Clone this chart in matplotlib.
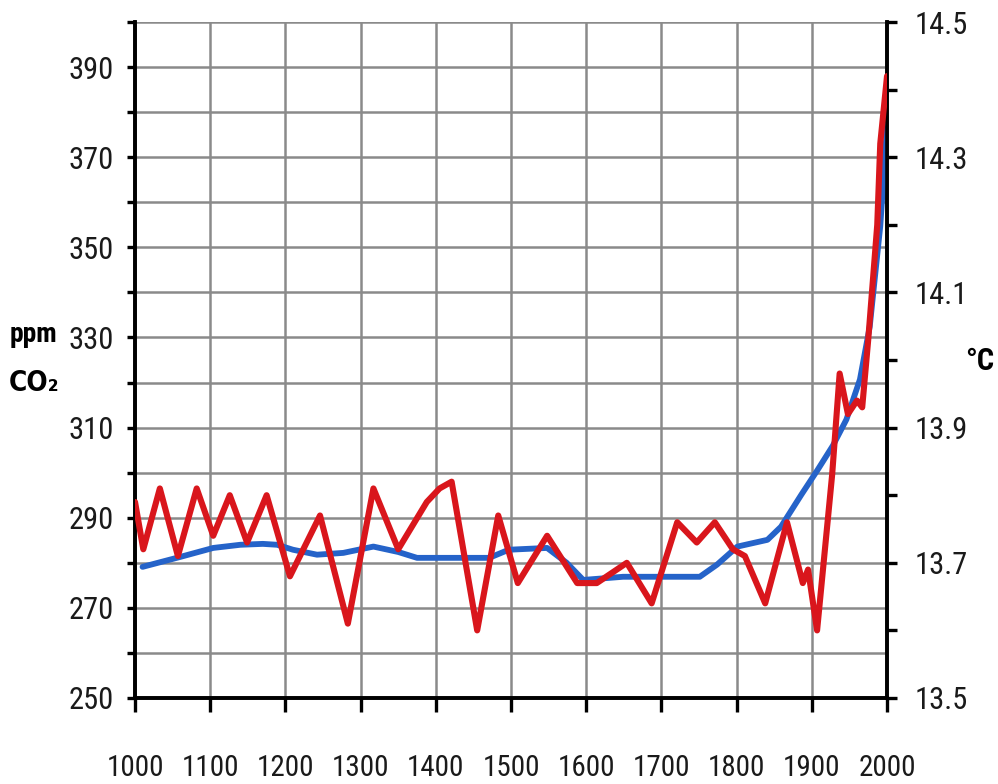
import matplotlib
matplotlib.use('Agg')
import matplotlib.pyplot as plt
from matplotlib.ticker import MultipleLocator

plt.rcParams['font.family'] = ['Roboto Condensed', 'DejaVu Sans']

# CO2 (ppm, left axis)
co2_years = [1010, 1060, 1104, 1140, 1170, 1189, 1210, 1242, 1277, 1317, 1350,
             1375, 1428, 1471, 1497, 1548, 1574, 1596, 1649, 1694, 1751, 1774,
             1801, 1841, 1859, 1886, 1908, 1928, 1946, 1964, 1977, 1991, 2000]
co2_ppm = [279.1, 281.3, 283.3, 284.0, 284.2, 284.0, 282.9, 281.8, 282.2, 283.6, 282.4,
           281.1, 281.1, 281.1, 282.9, 283.3, 280.0, 276.2, 276.9, 276.9, 276.9, 279.6,
           283.6, 285.1, 288.0, 295.1, 300.7, 306.0, 311.8, 320.7, 332.4, 354.7, 377.0]

# temperature (deg C, right axis)
temp_years = [1000, 1011, 1033, 1057, 1082, 1104, 1126, 1149, 1175, 1206, 1246,
              1283, 1317, 1350, 1388, 1405, 1421, 1455, 1483, 1509, 1548, 1588,
              1614, 1654, 1687, 1721, 1747, 1771, 1795, 1811, 1838, 1867, 1888,
              1895, 1907, 1927, 1937, 1948, 1960, 1967, 1975, 1987, 1991, 2000]
temp_c = [13.79, 13.72, 13.81, 13.71, 13.81, 13.74, 13.80, 13.73, 13.80, 13.68, 13.77,
          13.61, 13.81, 13.72, 13.79, 13.81, 13.82, 13.60, 13.77, 13.67, 13.74, 13.67,
          13.67, 13.70, 13.64, 13.76, 13.73, 13.76, 13.72, 13.71, 13.64, 13.76, 13.67,
          13.69, 13.60, 13.83, 13.98, 13.92, 13.94, 13.93, 14.03, 14.20, 14.32, 14.42]

left_ticks = [250, 270, 290, 310, 330, 350, 370, 390]
right_ticks = [13.5, 13.7, 13.9, 14.1, 14.3, 14.5]
x_ticks = list(range(1000, 2001, 100))

fig = plt.figure(figsize=(9.98, 7.84), dpi=100)
ax = fig.add_axes([0.1353, 0.1097, 0.7535, 0.8622])
ax2 = ax.twinx()

ax.set_xlim(1000, 2000)
ax.set_ylim(250, 400)
ax2.set_ylim(13.5, 14.5)

ax.set_xticks(x_ticks)
ax.set_xticklabels([str(x) for x in x_ticks])
ax.set_yticks(left_ticks)
ax.yaxis.set_minor_locator(MultipleLocator(10))
ax2.set_yticks(right_ticks)
ax2.set_yticklabels([str(t) for t in right_ticks])
ax2.yaxis.set_minor_locator(MultipleLocator(0.1))

ax.grid(True, which='both', color='#8a8a8a', lw=1.8)
ax.set_axisbelow(True)

for a in (ax, ax2):
    a.spines['top'].set_visible(False)
    for s in ('left', 'right', 'bottom'):
        a.spines[s].set_linewidth(2.6)
        a.spines[s].set_color('black')

ax.tick_params(axis='both', which='both', direction='out', width=2.4, color='black',
               labelsize=22, labelcolor='#1a1a1a')
ax.tick_params(axis='y', which='both', length=6, pad=9)
ax.tick_params(axis='x', length=10, pad=30, labelsize=21)
ax2.tick_params(axis='y', which='both', direction='out', length=7, width=2.4,
                labelsize=22, labelcolor='#1a1a1a', pad=13)

ax.plot(co2_years, co2_ppm, color='#2563c9', lw=4.2, solid_capstyle='round',
        solid_joinstyle='round', zorder=3)
ax2.plot(temp_years, temp_c, color='#d9161c', lw=4.4, solid_capstyle='round',
         solid_joinstyle='round', zorder=4)
ax2.set_zorder(ax.get_zorder() + 1)

fig.text(0.034, 0.573, 'ppm', fontsize=20, fontweight='bold', ha='center', va='center')
fig.text(0.034, 0.511, 'CO₂', fontsize=20, fontweight='bold', ha='center', va='center',
         family=['DejaVu Sans'], fontstretch='condensed')
fig.text(0.982, 0.539, '°C', fontsize=22, fontweight='bold', ha='center', va='center')

fig.savefig('out.png', dpi=100)
